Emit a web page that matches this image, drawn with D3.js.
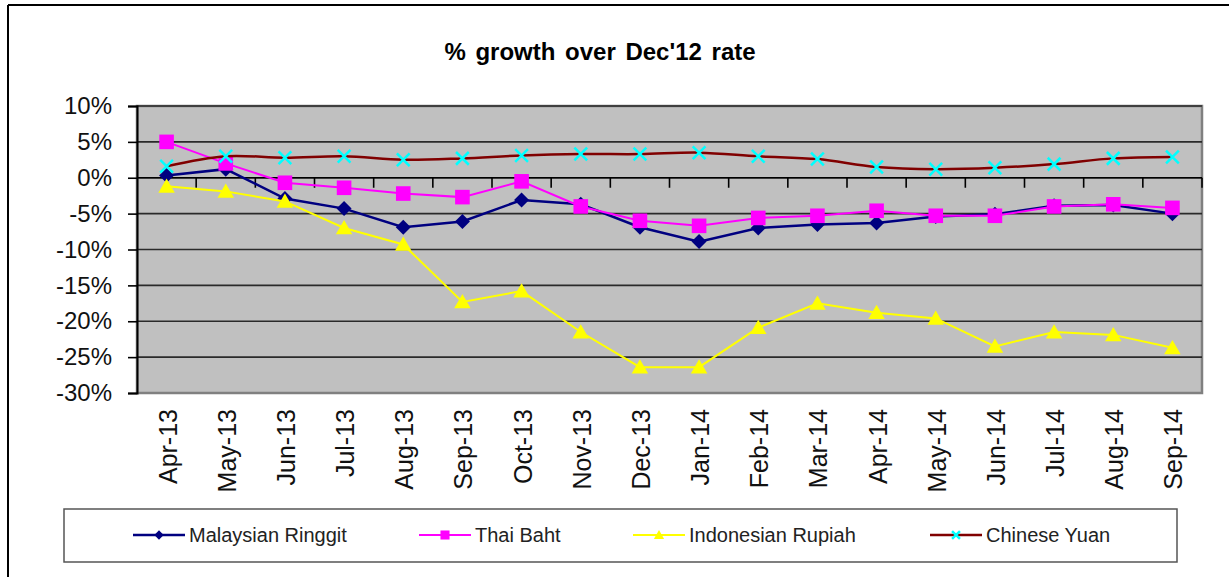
<!DOCTYPE html>
<meta charset="utf-8">
<style>
body { margin: 0; background: #fff; font-family: "Liberation Sans", Arial, sans-serif; }
svg { display: block; }
.ylab, .xlab { font-size: 25px; fill: #111; }
.legend { font-size: 20px; fill: #222; }
</style>
<body>
<script src="https://d3js.org/d3.v7.min.js"></script>
<script>

// data (% growth over Dec'12 rate)
var months = ["Apr-13","May-13","Jun-13","Jul-13","Aug-13","Sep-13","Oct-13","Nov-13","Dec-13",
              "Jan-14","Feb-14","Mar-14","Apr-14","May-14","Jun-14","Jul-14","Aug-14","Sep-14"];
var malaysian = [0.3, 1.2, -2.9, -4.3, -6.9, -6.1, -3.1, -3.7, -6.9, -8.9, -7.0, -6.5, -6.3, -5.4, -5.1, -3.9, -3.8, -5.0];
var thai      = [5.0, 2.0, -0.7, -1.4, -2.2, -2.7, -0.5, -4.0, -6.0, -6.7, -5.6, -5.3, -4.6, -5.3, -5.3, -4.0, -3.7, -4.2];
var indo      = [-1.2, -1.9, -3.3, -7.0, -9.3, -17.3, -15.8, -21.5, -26.4, -26.4, -20.9, -17.5, -18.8, -19.6, -23.5, -21.5, -21.9, -23.7];
var chinese   = [1.6, 3.0, 2.8, 3.0, 2.5, 2.7, 3.1, 3.3, 3.3, 3.5, 3.0, 2.6, 1.5, 1.2, 1.4, 1.9, 2.7, 2.9];
var yTicks = [10, 5, 0, -5, -10, -15, -20, -25, -30];
var seriesNames = ["Malaysian Ringgit", "Thai Baht", "Indonesian Rupiah", "Chinese Yuan"];

var W = 1229, H = 577;
var plot = {left: 137, right: 1202, top: 106, bottom: 393};

var svg = d3.select("body").append("svg")
    .attr("width", W).attr("height", H);

// outer frame (only top + left visible in the crop)
svg.append("line").attr("x1", 8).attr("x2", W).attr("y1", 5).attr("y2", 5)
    .attr("stroke", "#000").attr("stroke-width", 2);
svg.append("line").attr("x1", 8).attr("x2", 8).attr("y1", 5).attr("y2", H)
    .attr("stroke", "#000").attr("stroke-width", 2);

// title
svg.append("text")
    .attr("x", 600).attr("y", 60)
    .attr("text-anchor", "middle")
    .style("font-size", "24px").style("font-weight", "bold")
    .style("word-spacing", "3px")
    .text("% growth over Dec'12 rate");

var x = d3.scaleBand().domain(months).range([plot.left, plot.right]).padding(0);
var y = d3.scaleLinear().domain([-30, 10]).range([plot.bottom, plot.top]);
var cx = function(d, i) { return x(months[i]) + x.bandwidth() / 2; };

// plot background
svg.append("rect")
    .attr("x", plot.left).attr("y", plot.top)
    .attr("width", plot.right - plot.left).attr("height", plot.bottom - plot.top)
    .attr("fill", "#c0c0c0").attr("stroke", "#808080").attr("stroke-width", 2.5);

// gridlines
svg.append("g")
    .selectAll("line").data(yTicks.filter(function(t) { return t > -30; }))
    .enter().append("line")
    .attr("x1", plot.left).attr("x2", plot.right)
    .attr("y1", function(d) { return y(d); }).attr("y2", function(d) { return y(d); })
    .attr("stroke", "#2a2a2a").attr("stroke-width", 1.6);

// y axis
var yAxis = svg.append("g")
    .attr("transform", "translate(" + plot.left + ",0)")
    .call(d3.axisLeft(y).tickValues(yTicks).tickSize(9).tickPadding(16)
        .tickFormat(function(d) { return d + "%"; }));
yAxis.select(".domain").attr("stroke", "#000").attr("stroke-width", 2);
yAxis.selectAll(".tick line").attr("stroke", "#000").attr("stroke-width", 1.6);
yAxis.selectAll(".tick text").attr("class", "ylab")
    .style("font-family", "Liberation Sans, Arial, sans-serif").style("font-size", "24px").attr("fill", "#111");

// x axis at 0% with ticks between categories
var xAxis = svg.append("g").attr("transform", "translate(0," + y(0) + ")");
xAxis.append("line").attr("x1", plot.left).attr("x2", plot.right)
    .attr("stroke", "#000").attr("stroke-width", 1.6);
xAxis.selectAll(".tk").data(months).enter().append("line")
    .attr("class", "tk")
    .attr("x1", function(d) { return x(d) + x.bandwidth(); })
    .attr("x2", function(d) { return x(d) + x.bandwidth(); })
    .attr("y1", 0).attr("y2", 10)
    .attr("stroke", "#000").attr("stroke-width", 1.6);

// x labels, rotated, below the plot
svg.append("g").selectAll("text").data(months).enter().append("text")
    .attr("class", "xlab")
    .attr("transform", function(d) {
        return "translate(" + (x(d) + x.bandwidth() / 2 + 1) + ",409) rotate(-90)";
    })
    .attr("text-anchor", "end")
    .attr("dy", "0.36em")
    .text(function(d) { return d; });

// series
var straight = d3.line().x(cx).y(function(d) { return y(d); });
var smooth = d3.line().x(cx).y(function(d) { return y(d); }).curve(d3.curveCatmullRom);

var series = [
    {name: seriesNames[0], values: malaysian, color: "#000080", width: 2.5, curve: straight, marker: "diamond", mcolor: "#000080"},
    {name: seriesNames[1], values: thai, color: "#ff00ff", width: 2, curve: straight, marker: "square", mcolor: "#ff00ff"},
    {name: seriesNames[2], values: indo, color: "#ffff00", width: 2, curve: straight, marker: "triangle", mcolor: "#ffff00"},
    {name: seriesNames[3], values: chinese, color: "#800000", width: 2.5, curve: smooth, marker: "x", mcolor: "#00ffff"}
];

function drawMarker(g, type, color, s) {
    if (type === "diamond") {
        g.append("path").attr("d", "M0," + (-s) + "L" + s + ",0L0," + s + "L" + (-s) + ",0Z").attr("fill", color);
    } else if (type === "square") {
        g.append("rect").attr("x", -s).attr("y", -s).attr("width", 2 * s).attr("height", 2 * s).attr("fill", color);
    } else if (type === "triangle") {
        g.append("path").attr("d", "M0," + (-s * 1.05) + "L" + (s * 1.1) + "," + (s * 0.85) + "L" + (-s * 1.1) + "," + (s * 0.85) + "Z").attr("fill", color);
    } else {
        var k = s * 0.85;
        g.append("path").attr("d", "M" + (-k) + "," + (-k) + "L" + k + "," + k + "M" + (-k) + "," + k + "L" + k + "," + (-k))
            .attr("stroke", color).attr("stroke-width", 2.5).attr("fill", "none");
    }
}

var markerSize = {diamond: 7.5, square: 7.3, triangle: 7.5, x: 7.5};

series.forEach(function(s) {
    var g = svg.append("g");
    g.append("path")
        .attr("d", s.curve(s.values))
        .attr("fill", "none")
        .attr("stroke", s.color)
        .attr("stroke-width", s.width);
    s.values.forEach(function(v, i) {
        var m = g.append("g").attr("transform", "translate(" + cx(v, i) + "," + y(v) + ")");
        drawMarker(m, s.marker, s.mcolor, markerSize[s.marker]);
    });
});

// legend
svg.append("rect")
    .attr("x", 64).attr("y", 509).attr("width", 1113).attr("height", 53)
    .attr("fill", "#fff").attr("stroke", "#555").attr("stroke-width", 1.5);

var legendX = [133, 419, 633, 930];
series.forEach(function(s, i) {
    var g = svg.append("g").attr("transform", "translate(" + legendX[i] + ",535)");
    g.append("line").attr("x1", 0).attr("x2", 52).attr("y1", 0).attr("y2", 0)
        .attr("stroke", s.color).attr("stroke-width", s.width);
    var m = g.append("g").attr("transform", "translate(26,0)");
    drawMarker(m, s.marker, s.mcolor, markerSize[s.marker] * 0.62);
    g.append("text").attr("class", "legend")
        .attr("x", 56).attr("dy", "0.35em")
        .text(s.name);
});

</script>
</body>
